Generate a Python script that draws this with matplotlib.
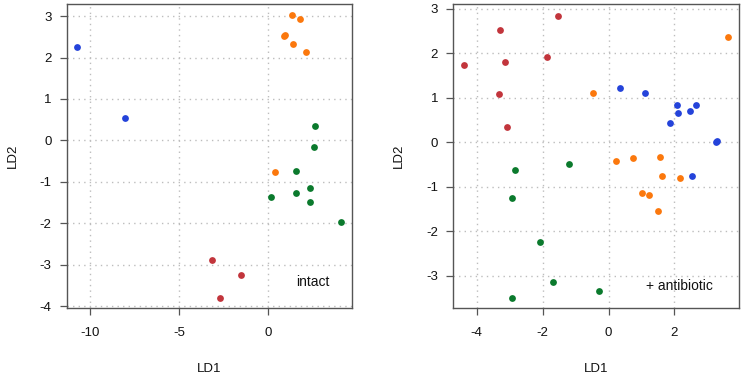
import matplotlib
matplotlib.use("Agg")
import matplotlib.pyplot as plt

plt.rcParams['font.family'] = ['Liberation Sans', 'DejaVu Sans']

# ---- left panel: intact ----
intact_blue_x = [-10.73, -8.02]
intact_blue_y = [2.26, 0.53]
intact_orange_x = [1.33, 1.76, 0.95, 0.86, 1.40, 2.13, 0.39]
intact_orange_y = [3.02, 2.94, 2.55, 2.51, 2.32, 2.13, -0.77]
intact_green_x = [2.60, 2.56, 1.57, 2.35, 1.53, 0.15, 2.35, 4.06]
intact_green_y = [0.35, -0.16, -0.73, -1.14, -1.26, -1.36, -1.49, -1.96]
intact_red_x = [-3.17, -1.51, -2.69]
intact_red_y = [-2.88, -3.24, -3.79]

# ---- right panel: + antibiotic ----
abx_red_x = [-4.38, -3.29, -1.52, -3.13, -1.88, -3.31, -3.07]
abx_red_y = [1.75, 2.52, 2.84, 1.80, 1.93, 1.08, 0.35]
abx_orange_x = [-0.46, 3.62, 0.24, 0.75, 1.56, 1.62, 2.16, 1.03, 1.24, 1.50]
abx_orange_y = [1.11, 2.36, -0.41, -0.34, -0.32, -0.76, -0.81, -1.14, -1.18, -1.54]
abx_blue_x = [0.36, 1.11, 2.09, 2.10, 2.46, 2.66, 1.87, 3.25, 3.29, 2.52]
abx_blue_y = [1.22, 1.12, 0.83, 0.67, 0.70, 0.85, 0.44, 0.01, 0.04, -0.75]
abx_green_x = [-2.85, -1.20, -2.94, -2.09, -1.68, -0.29, -2.92]
abx_green_y = [-0.62, -0.48, -1.25, -2.23, -3.13, -3.34, -3.49]

left_xticks = [-10, -5, 0]
left_yticks = [-4, -3, -2, -1, 0, 1, 2, 3]
right_xticks = [-4, -2, 0, 2]
right_yticks = [-3, -2, -1, 0, 1, 2, 3]

BLUE = '#2443da'
ORANGE = '#fb780d'
GREEN = '#0b7a2d'
RED = '#c2353c'

fig = plt.figure(figsize=(7.43, 3.75), dpi=100)
ax1 = fig.add_axes([67/743, 1-308/375, 285/743, 304/375])
ax2 = fig.add_axes([453.3/743, 1-308/375, 285.4/743, 304/375])

FS = 9.5


def style(ax, xticks, yticks, xlim, ylim):
    ax.set_xlim(*xlim)
    ax.set_ylim(*ylim)
    ax.set_xticks(xticks)
    ax.set_yticks(yticks)
    ax.set_xticklabels([str(t) for t in xticks])
    ax.set_yticklabels([str(t) for t in yticks])
    for t in xticks:
        ax.axvline(t, color='#bdbdbd', lw=1.0, ls=(0, (1, 3)), zorder=0)
    for t in yticks:
        ax.axhline(t, color='#bdbdbd', lw=1.0, ls=(0, (1, 3)), zorder=0)
    for s in ax.spines.values():
        s.set_color('#555555')
        s.set_linewidth(1.0)
    ax.tick_params(axis='both', direction='out', length=5, width=0.9,
                   color='#555555', labelsize=FS, labelcolor='#111111')
    ax.tick_params(axis='x', pad=9)
    ax.tick_params(axis='y', pad=6)
    ax.set_xlabel('LD1', fontsize=FS, labelpad=17, color='#111111')
    ax.set_ylabel('LD2', fontsize=FS, labelpad=15, color='#111111')


ms = 24
ax1.scatter(intact_blue_x, intact_blue_y, s=ms, color=BLUE, lw=0, zorder=3)
ax1.scatter(intact_orange_x, intact_orange_y, s=ms, color=ORANGE, lw=0, zorder=3)
ax1.scatter(intact_green_x, intact_green_y, s=ms, color=GREEN, lw=0, zorder=3)
ax1.scatter(intact_red_x, intact_red_y, s=ms, color=RED, lw=0, zorder=3)
style(ax1, left_xticks, left_yticks, (-11.29, 4.69), (-4.04, 3.29))
ax1.text(2.49, -3.42, 'intact', fontsize=10, ha='center', va='center', color='#111111')

ax2.scatter(abx_red_x, abx_red_y, s=ms, color=RED, lw=0, zorder=3)
ax2.scatter(abx_orange_x, abx_orange_y, s=ms, color=ORANGE, lw=0, zorder=3)
ax2.scatter(abx_blue_x, abx_blue_y, s=ms, color=BLUE, lw=0, zorder=3)
ax2.scatter(abx_green_x, abx_green_y, s=ms, color=GREEN, lw=0, zorder=3)
style(ax2, right_xticks, right_yticks, (-4.71, 3.95), (-3.72, 3.11))
ax2.text(2.15, -3.22, '+ antibiotic', fontsize=10, ha='center', va='center', color='#111111')

fig.savefig('out.png', dpi=100)
